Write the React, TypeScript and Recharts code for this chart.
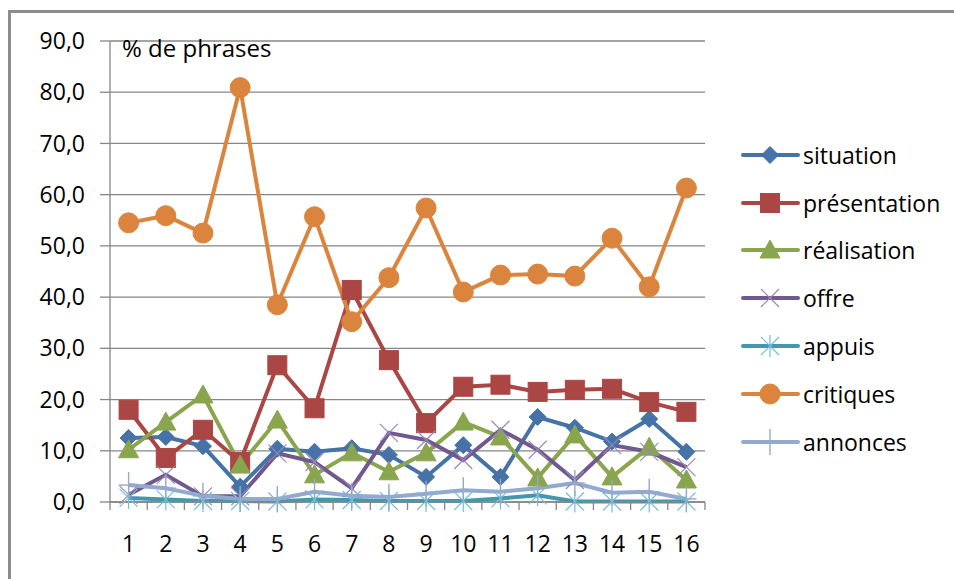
import React from 'react';
import { LineChart, Line, XAxis, YAxis, CartesianGrid, Legend } from 'recharts';

const categories = [1, 2, 3, 4, 5, 6, 7, 8, 9, 10, 11, 12, 13, 14, 15, 16];
const situation = [12.5, 12.7, 10.9, 3.0, 10.4, 9.8, 10.5, 9.2, 4.9, 11.1, 4.9, 16.6, 14.5, 11.8, 16.2, 9.8];
const presentation = [18.0, 8.6, 14.1, 7.8, 26.7, 18.3, 41.4, 27.7, 15.4, 22.5, 22.9, 21.5, 21.9, 22.1, 19.5, 17.6];
const realisation = [10.2, 15.6, 20.9, 7.2, 16.0, 5.3, 9.6, 5.9, 9.6, 15.6, 12.7, 4.7, 13.1, 4.9, 10.7, 4.3];
const offre = [1.4, 5.3, 1.1, 1.1, 9.5, 7.8, 2.7, 13.5, 12.1, 8.2, 14.1, 10.2, 4.3, 11.1, 9.8, 6.8];
const appuis = [0.8, 0.5, 0.2, 0.2, 0.1, 0.5, 0.4, 0.2, 0.2, 0.2, 0.7, 1.3, 0.1, 0.1, 0.1, 0.1];
const critiques = [54.5, 55.9, 52.5, 80.9, 38.5, 55.7, 35.2, 43.8, 57.4, 41.0, 44.3, 44.5, 44.1, 51.5, 42.0, 61.3];
const annonces = [3.3, 2.7, 1.2, 0.6, 0.6, 2.0, 1.2, 1.0, 1.6, 2.3, 2.0, 2.7, 3.7, 1.8, 2.0, 0.6];
const yTicks = [0, 10, 20, 30, 40, 50, 60, 70, 80, 90];

const series = [
  { key: 'situation', name: 'situation', values: situation, color: '#4572A7', light: '#4572A7', kind: 'diamond' },
  { key: 'presentation', name: 'présentation', values: presentation, color: '#AA4643', light: '#AA4643', kind: 'square' },
  { key: 'realisation', name: 'réalisation', values: realisation, color: '#89A54E', light: '#89A54E', kind: 'triangle' },
  { key: 'offre', name: 'offre', values: offre, color: '#71588F', light: '#9A87B8', kind: 'x' },
  { key: 'appuis', name: 'appuis', values: appuis, color: '#4198AF', light: '#72C0D6', kind: 'star' },
  { key: 'critiques', name: 'critiques', values: critiques, color: '#DB843D', light: '#DB843D', kind: 'circle' },
  { key: 'annonces', name: 'annonces', values: annonces, color: '#93A9CF', light: '#93A9CF', kind: 'plus' },
];

const data = categories.map((c, i) => {
  const row: any = { x: c };
  series.forEach((s) => { row[s.key] = s.values[i]; });
  return row;
});

const FONT = '"Open Sans", sans-serif';
const GRID = '#868686';
const PLOT_LEFT = 110;
const PLOT_RIGHT = 705;
const STEP = (PLOT_RIGHT - PLOT_LEFT) / categories.length;

function Marker({ kind, cx, cy, color, light }: any) {
  switch (kind) {
    case 'diamond': {
      const s = 8.5;
      return <polygon points={`${cx},${cy - s} ${cx + s},${cy} ${cx},${cy + s} ${cx - s},${cy}`} fill={color} stroke={color} strokeWidth={1} />;
    }
    case 'square':
      return <rect x={cx - 9.5} y={cy - 9.5} width={19} height={19} fill={color} stroke={color} strokeWidth={1} />;
    case 'triangle':
      return <polygon points={`${cx},${cy - 10} ${cx + 10},${cy + 8} ${cx - 10},${cy + 8}`} fill={color} stroke={color} strokeWidth={1} />;
    case 'x':
      return (
        <g stroke={light} strokeWidth={1.2}>
          <line x1={cx - 9} y1={cy - 9} x2={cx + 9} y2={cy + 9} />
          <line x1={cx - 9} y1={cy + 9} x2={cx + 9} y2={cy - 9} />
        </g>
      );
    case 'star':
      return (
        <g stroke={light} strokeWidth={1.2}>
          <line x1={cx - 9} y1={cy - 9} x2={cx + 9} y2={cy + 9} />
          <line x1={cx - 9} y1={cy + 9} x2={cx + 9} y2={cy - 9} />
          <line x1={cx} y1={cy - 11} x2={cx} y2={cy + 11} />
        </g>
      );
    case 'circle':
      return <circle cx={cx} cy={cy} r={10} fill={color} stroke={color} strokeWidth={1} />;
    case 'plus':
      return (
        <g stroke={light} strokeWidth={1.4}>
          <line x1={cx} y1={cy - 13} x2={cx} y2={cy + 13} />
          <line x1={cx - 10} y1={cy} x2={cx + 10} y2={cy} />
        </g>
      );
    default:
      return null;
  }
}

function XTick(props: any) {
  const { x, y, payload, index } = props;
  const half = STEP / 2;
  return (
    <g>
      <line x1={x - half} y1={y} x2={x - half} y2={y + 8} stroke={GRID} strokeWidth={1.3} />
      {index === categories.length - 1 ? (
        <line x1={x + half} y1={y} x2={x + half} y2={y + 8} stroke={GRID} strokeWidth={1.3} />
      ) : null}
      <text x={x} y={y + 41} textAnchor="middle" dominantBaseline="central" fill="#000" fontSize={23} fontFamily={FONT}>
        {payload.value}
      </text>
    </g>
  );
}

function LegendContent() {
  return (
    <div style={{ fontFamily: FONT, fontSize: 23, color: '#000' }}>
      {series.map((s) => (
        <div key={s.key} style={{ height: 47.8, display: 'flex', alignItems: 'center', whiteSpace: 'nowrap' }}>
          <svg width={63} height={30} style={{ display: 'block' }}>
            <line x1={3} y1={15} x2={58} y2={15} stroke={s.color} strokeWidth={4} strokeLinecap="round" />
            <Marker kind={s.kind} cx={30} cy={15} color={s.color} light={s.light} />
          </svg>
          <span>{s.name}</span>
        </div>
      ))}
    </div>
  );
}

export default function App() {
  return (
    <div style={{ position: 'absolute', left: 0, top: 0, width: 954, height: 579, background: '#fff', overflow: 'hidden' }}>
      <div
        style={{
          position: 'absolute',
          left: 8,
          top: 10,
          width: 960,
          height: 600,
          borderTop: '3px solid #8C8C8C',
          borderLeft: '3px solid #8C8C8C',
          boxSizing: 'border-box',
        }}
      />
      <div style={{ position: 'absolute', left: 0, top: 0 }}>
        <LineChart
          width={954}
          height={579}
          data={data}
          margin={{ top: 41, right: 954 - PLOT_RIGHT, bottom: 37, left: 0 }}
        >
          <CartesianGrid vertical={false} stroke={GRID} strokeWidth={1.3} />
          <XAxis
            dataKey="x"
            type="number"
            domain={[0.5, 16.5]}
            ticks={categories}
            interval={0}
            height={40}
            axisLine={{ stroke: GRID, strokeWidth: 1.3 }}
            tickLine={false}
            tickSize={0}
            tickMargin={0}
            tick={<XTick />}
            allowDataOverflow
          />
          <YAxis
            domain={[0, 90]}
            ticks={yTicks}
            interval={0}
            width={PLOT_LEFT}
            axisLine={{ stroke: GRID, strokeWidth: 1.3 }}
            tickLine={{ stroke: GRID, strokeWidth: 1.3 }}
            tickSize={10}
            tickMargin={15}
            tick={{ fill: '#000', fontSize: 23, fontFamily: FONT }}
            tickFormatter={(v: number) => v.toFixed(1).replace('.', ',')}
          />
          <Legend
            layout="vertical"
            align="center"
            verticalAlign="middle"
            wrapperStyle={{ left: 740, top: 131, width: 214 }}
            content={<LegendContent />}
          />
          {series.map((s) => (
            <Line
              key={s.key}
              dataKey={s.key}
              name={s.name}
              stroke={s.color}
              strokeWidth={4}
              isAnimationActive={false}
              dot={(p: any) => <Marker key={`${s.key}-${p.index}`} kind={s.kind} cx={p.cx} cy={p.cy} color={s.color} light={s.light} />}
              activeDot={false}
            />
          ))}
        </LineChart>
      </div>
      <div
        style={{
          position: 'absolute',
          left: 122,
          top: 36,
          fontFamily: FONT,
          fontSize: 24,
          lineHeight: '24px',
          color: '#000',
          whiteSpace: 'nowrap',
        }}
      >
        % de phrases
      </div>
    </div>
  );
}
